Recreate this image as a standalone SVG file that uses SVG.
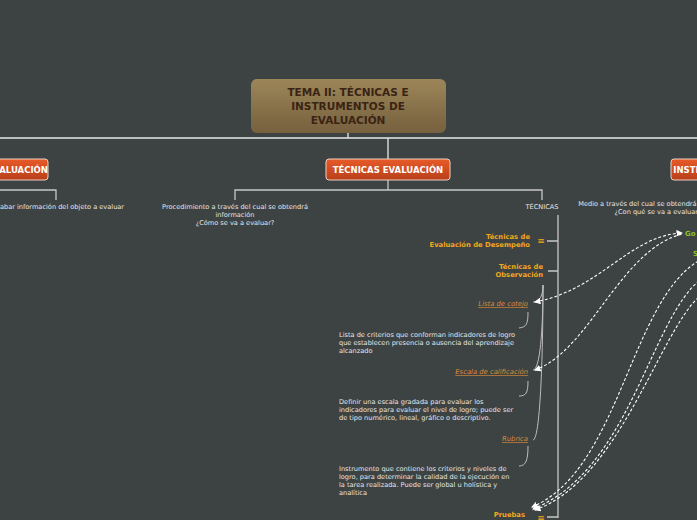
<svg xmlns="http://www.w3.org/2000/svg" width="697" height="520" viewBox="0 0 697 520">
<defs>
<linearGradient id="rg" x1="0" y1="0" x2="0" y2="1"><stop offset="0" stop-color="#9c8658"/><stop offset="1" stop-color="#76603e"/></linearGradient>
<linearGradient id="og" x1="0" y1="0" x2="0" y2="1"><stop offset="0" stop-color="#e85a28"/><stop offset="1" stop-color="#b8401a"/></linearGradient>
<marker id="ah" viewBox="0 0 6 6" refX="5" refY="3" markerWidth="6" markerHeight="6" orient="auto-start-reverse"><path d="M0,0L6,3L0,6z" fill="#fff"/></marker>
</defs>
<style>
text{font-family:"DejaVu Sans",Verdana,sans-serif}
.t{fill:#3a2414;font-size:10.5px;font-weight:bold;text-anchor:middle}
.h{fill:#fff;font-size:8.5px;font-weight:bold;text-anchor:middle}
.d{fill:#e6e6e6;font-size:6.6px}
.c{text-anchor:middle}
.o{fill:#f2a81c;font-size:6.8px;font-weight:bold;text-anchor:end}
.l{fill:#d98a3a;font-size:6.8px;font-style:italic;text-decoration:underline;text-anchor:end}
.g{fill:#8dc21f;font-size:7px;font-weight:bold}
.ln{stroke:#c8c8c8;fill:none;stroke-width:1.3}
.w{stroke:#e8e8e8;fill:none;stroke-width:1.3}
.thin{stroke:#bdbdbd;fill:none;stroke-width:1}
.da{stroke:#fff;fill:none;stroke-width:1.1;stroke-dasharray:3 2}
.ob{fill:url(#og);stroke:#f0d0c0;stroke-width:1}
</style>
<rect width="697" height="520" fill="#3d4243"/>
<g id="connectors">
<path class="w" d="M0,138H697M348,133V138M388,138V159"/>
<path class="ln" d="M388,180V190M235,200V190H542V200"/>
<path class="ln" d="M0,190H56V200"/>
<path class="ln" d="M558,215V518M547,241H558M548,271H558M547,517H558"/>
<path class="thin" d="M543,285C543,295 540,302 533,302M543,285C543,330 540,370 533,370M543,285C543,360 540,440 533,440"/>
<path class="thin" d="M528,312C528,325 526,327 519,328M528,381C528,393 526,396 519,396M528,446C528,460 526,466 519,466"/>
<path class="da" marker-start="url(#ah)" marker-end="url(#ah)" d="M535,302C600,290 630,235 682,233"/>
<path class="da" marker-start="url(#ah)" d="M535,370C590,350 620,250 682,234"/>
<path class="da" marker-start="url(#ah)" d="M532,507C620,470 630,300 700,260"/>
<path class="da" marker-start="url(#ah)" d="M533,509C630,470 650,320 700,280"/>
<path class="da" marker-start="url(#ah)" d="M535,510C620,480 660,330 700,296"/>
</g>
<g id="root"><rect x="251" y="79" width="195" height="54" rx="6" fill="url(#rg)"/>
<text class="t" x="348" y="96">TEMA II: TÉCNICAS E</text><text class="t" x="348" y="110">INSTRUMENTOS DE</text><text class="t" x="348" y="124">EVALUACIÓN</text></g>
<g id="n-left"><rect class="ob" x="-60" y="159" width="108" height="21" rx="3"/><text class="h" x="-6" y="173">TIPOS DE EVALUACIÓN</text></g>
<g id="n-tec"><rect class="ob" x="326" y="159" width="124" height="21" rx="3"/><text class="h" x="388" y="173">TÉCNICAS EVALUACIÓN</text></g>
<g id="n-ins"><rect class="ob" x="671" y="159" width="160" height="21" rx="3"/><text class="h" x="751" y="173">INSTRUMENTOS DE EVALUACIÓN</text></g>
<g id="d-left"><text class="d c" x="56" y="209">Recabar información del objeto a evaluar</text></g>
<g id="d-tec"><text class="d c" x="235" y="209">Procedimiento a través del cual se obtendrá</text><text class="d c" x="235" y="217">información</text><text class="d c" x="235" y="225">¿Cómo se va a evaluar?</text></g>
<g id="d-ins"><text class="d c" x="658" y="206">Medio a través del cual se obtendrá información</text><text class="d c" x="658" y="214">¿Con qué se va a evaluar?</text></g>
<g id="tecnicas"><text class="d c" x="542" y="209">TÉCNICAS</text></g>
<g id="desemp"><text class="o" x="530" y="239">Técnicas de</text><text class="o" x="530" y="247">Evaluación de Desempeño</text><text x="541" y="244" fill="#f2a81c" font-size="9" text-anchor="middle">≡</text></g>
<g id="obs"><text class="o" x="543" y="269">Técnicas de</text><text class="o" x="543" y="277">Observación</text></g>
<g id="lista"><text class="l" x="528" y="306">Lista de cotejo</text></g>
<g id="escala"><text class="l" x="528" y="374">Escala de calificación</text></g>
<g id="rubrica"><text class="l" x="528" y="441">Rubrica</text></g>
<g id="d-lista"><text class="d" x="339" y="337">Lista de criterios que conforman indicadores de logro</text><text class="d" x="339" y="345">que establecen presencia o ausencia del aprendizaje</text><text class="d" x="339" y="353">alcanzado</text></g>
<g id="d-escala"><text class="d" x="339" y="404">Definir una escala gradada para evaluar los</text><text class="d" x="339" y="412">indicadores para evaluar el nivel de logro;  puede ser</text><text class="d" x="339" y="420">de tipo numérico, lineal, gráfico o descriptivo.</text></g>
<g id="d-rubrica"><text class="d" x="339" y="471">Instrumento que contiene los criterios y niveles de</text><text class="d" x="339" y="479">logro, para determinar la calidad de la ejecución en</text><text class="d" x="339" y="487">la tarea realizada. Puede ser global u holística y</text><text class="d" x="339" y="495">analítica</text></g>
<g id="pruebas"><text class="o" x="525" y="517">Pruebas</text><text x="541" y="521" fill="#f2a81c" font-size="9" text-anchor="middle">≡</text></g>
<g id="go"><text class="g" x="685" y="236">Go</text></g>
<g id="s"><text class="g" x="693" y="256">S</text></g>
</svg>
